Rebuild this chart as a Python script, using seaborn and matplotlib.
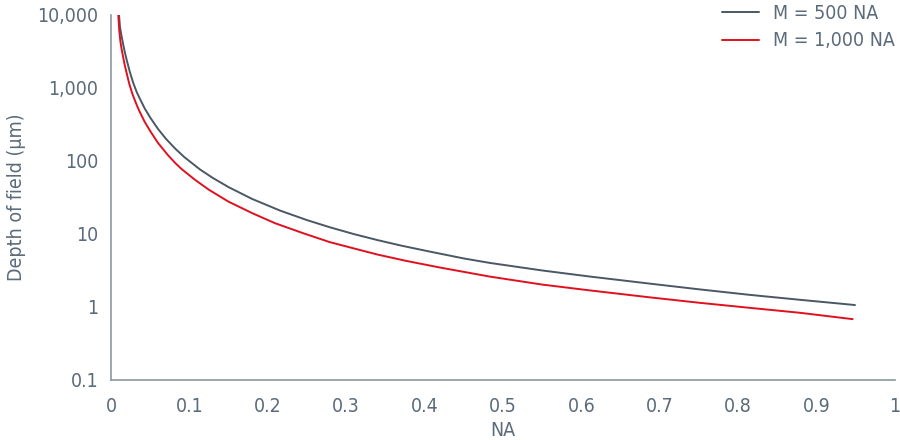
import numpy as np
import pandas as pd
import matplotlib
matplotlib.use("Agg")
import matplotlib.pyplot as plt
import seaborn as sns

# values (NA vs depth of field in µm)
na_500 = [0.0102, 0.0115, 0.013, 0.015, 0.0175, 0.02, 0.024, 0.0285, 0.033, 0.037,
          0.043, 0.05, 0.06, 0.07, 0.082, 0.094, 0.1135, 0.13, 0.15, 0.18,
          0.2156, 0.25, 0.279, 0.31, 0.34, 0.37, 0.407, 0.45, 0.483, 0.55,
          0.611, 0.6875, 0.75, 0.815, 0.879, 0.949]
dof_500 = [10000, 6800, 5400, 4200, 3100, 2400, 1650, 1150, 860, 700,
           520, 390, 272, 200, 146, 111, 76, 58, 43.5, 30,
           20.8, 15.4, 12.3, 9.9, 8.2, 6.9, 5.7, 4.6, 4.0, 3.15,
           2.6, 2.08, 1.74, 1.46, 1.25, 1.06]

na_1000 = [0.0093, 0.0105, 0.012, 0.0135, 0.015, 0.0175, 0.02, 0.0234, 0.027, 0.03,
           0.034, 0.037, 0.043, 0.05, 0.06, 0.073, 0.082, 0.09, 0.107, 0.125,
           0.15, 0.18, 0.209, 0.245, 0.279, 0.31, 0.34, 0.377, 0.42, 0.483,
           0.55, 0.611, 0.6875, 0.75, 0.815, 0.879, 0.946]
dof_1000 = [10000, 6200, 4300, 3400, 2800, 2050, 1580, 1120, 840, 690,
            540, 460, 340, 255, 175, 118, 93, 77, 55, 40,
            27.5, 19.2, 14.0, 10.2, 7.7, 6.3, 5.2, 4.25, 3.45, 2.6,
            2.02, 1.68, 1.35, 1.14, 0.97, 0.83, 0.68]

series_labels = ["M = 500 NA", "M = 1,000 NA"]
y_ticks = [0.1, 1, 10, 100, 1000, 10000]
y_tick_labels = ["0.1", "1", "10", "100", "1,000", "10,000"]
x_ticks = [0, 0.1, 0.2, 0.3, 0.4, 0.5, 0.6, 0.7, 0.8, 0.9, 1]
x_tick_labels = ["0", "0.1", "0.2", "0.3", "0.4", "0.5", "0.6", "0.7", "0.8", "0.9", "1"]

df = pd.concat([
    pd.DataFrame({"NA": na_500, "dof": dof_500, "series": series_labels[0]}),
    pd.DataFrame({"NA": na_1000, "dof": dof_1000, "series": series_labels[1]}),
], ignore_index=True)

sns.set_style("white")
plt.rcParams["font.family"] = ["DejaVu Sans"]
plt.rcParams["font.stretch"] = "condensed"

text_col = "#5b6b7a"
axis_col = "#8b97a3"
palette = {series_labels[0]: "#4a5764", series_labels[1]: "#e0101e"}

fig = plt.figure(figsize=(9, 4.4), dpi=100)
ax = fig.add_axes([0.1233, 0.1364, 0.8711, 0.8306])

sns.lineplot(data=df, x="NA", y="dof", hue="series", palette=palette,
             linewidth=1.4, ax=ax, sort=False, estimator=None)

ax.set_yscale("log")
ax.set_ylim(0.1, 10000)
ax.set_xlim(0, 1)
ax.set_yticks(y_ticks)
ax.set_yticklabels(y_tick_labels)
ax.set_xticks(x_ticks)
ax.set_xticklabels(x_tick_labels)
ax.minorticks_off()

ax.set_xlabel("NA", fontsize=14, color=text_col, labelpad=4)
ax.set_ylabel("Depth of field (µm)", fontsize=14, color=text_col, labelpad=8)

for s in ["top", "right"]:
    ax.spines[s].set_visible(False)
for s in ["left", "bottom"]:
    ax.spines[s].set_color(axis_col)
    ax.spines[s].set_linewidth(1.2)
ax.tick_params(axis="both", colors=axis_col, labelcolor=text_col,
               labelsize=14, length=6, width=1.2, direction="out")
ax.tick_params(axis="x", pad=6)
ax.tick_params(axis="y", pad=3)

leg = ax.legend(loc="upper right", bbox_to_anchor=(1.0, 1.03), frameon=False,
                fontsize=14, handlelength=1.95, handletextpad=0.7,
                labelspacing=0.45, borderaxespad=0, borderpad=0)
for t in leg.get_texts():
    t.set_color(text_col)

fig.savefig("out.png", dpi=100)
